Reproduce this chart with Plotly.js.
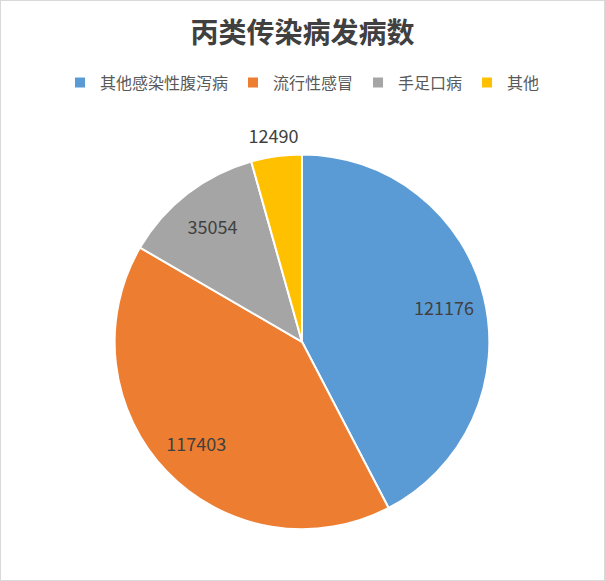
<!DOCTYPE html>
<html>
<head>
<meta charset="utf-8">
<script src="https://cdn.plot.ly/plotly-3.0.1.min.js"></script>
<style>
    html, body { margin: 0; padding: 0; background: #fff; }
    #chart {
        width: 605px;
        height: 581px;
        box-sizing: border-box;
        border: 1px solid #d9d9d9;
    }
</style>
</head>
<body>
<div id="chart"></div>
<script>
// 丙类传染病发病数
const categories = ['其他感染性腹泻病', '流行性感冒', '手足口病', '其他'];
const cases = [121176, 117403, 35054, 12490];
const sliceColors = ['#5B9BD5', '#ED7D31', '#A5A5A5', '#FFC000'];
// which value labels sit on the slice, which just outside it
const innerLabels = ['inside', 'inside', 'inside', 'none'];
const outerLabels = ['none', 'none', 'none', 'inside'];

const fontFamily = '"Noto Sans CJK SC", "Noto Sans", sans-serif';
const pieDomain = { x: [0.1884, 0.8099], y: [0.0878, 0.735] };
const outerDomain = { x: [0.1045, 0.8939], y: [0, 0.8221] };
const labelFont = { family: fontFamily, size: 18, color: '#404040' };

const clear = categories.map(() => 'rgba(0,0,0,0)');

// Slices
const slices = {
    type: 'pie',
    labels: categories,
    values: cases,
    sort: false,
    direction: 'clockwise',
    rotation: 0,
    marker: {
        colors: sliceColors,
        line: { color: '#ffffff', width: 2 }
    },
    textinfo: 'none',
    hoverinfo: 'label+value+percent',
    domain: pieDomain
};

// Transparent ring on top, only used to push the value labels outwards
const valueLabels = {
    type: 'pie',
    labels: categories,
    values: cases,
    sort: false,
    direction: 'clockwise',
    rotation: 0,
    hole: 0.56,
    showlegend: false,
    marker: { colors: clear, line: { width: 0 } },
    texttemplate: '%{value:d}',
    textposition: innerLabels,
    insidetextorientation: 'horizontal',
    textfont: labelFont,
    insidetextfont: labelFont,
    hoverinfo: 'skip',
    domain: pieDomain
};

// Bigger transparent ring for the small slice's label, above the pie
const outerValueLabels = {
    type: 'pie',
    labels: categories,
    values: cases,
    sort: false,
    direction: 'clockwise',
    rotation: 0,
    hole: 0.6,
    showlegend: false,
    marker: { colors: clear, line: { width: 0 } },
    texttemplate: '%{value:d}',
    textposition: outerLabels,
    insidetextorientation: 'horizontal',
    textfont: labelFont,
    insidetextfont: labelFont,
    hoverinfo: 'skip',
    domain: outerDomain
};

const layout = {
    width: 603,
    height: 579,
    margin: { t: 0, r: 0, b: 0, l: 0 },
    paper_bgcolor: '#ffffff',
    font: { family: fontFamily, color: '#595959' },
    title: {
        text: '<b>丙类传染病发病数</b>',
        font: { family: fontFamily, size: 28, color: '#404040' },
        x: 0.5,
        xanchor: 'center',
        y: 0.945,
        yanchor: 'middle'
    },
    showlegend: true,
    legend: {
        orientation: 'h',
        x: 0.5,
        xanchor: 'center',
        y: 0.859,
        yanchor: 'middle',
        font: { family: fontFamily, size: 16, color: '#595959' },
        itemwidth: 30,
        traceorder: 'normal'
    }
};

const config = { displayModeBar: false, staticPlot: true };

Plotly.newPlot('chart', [slices, valueLabels, outerValueLabels], layout, config);
</script>
</body>
</html>
